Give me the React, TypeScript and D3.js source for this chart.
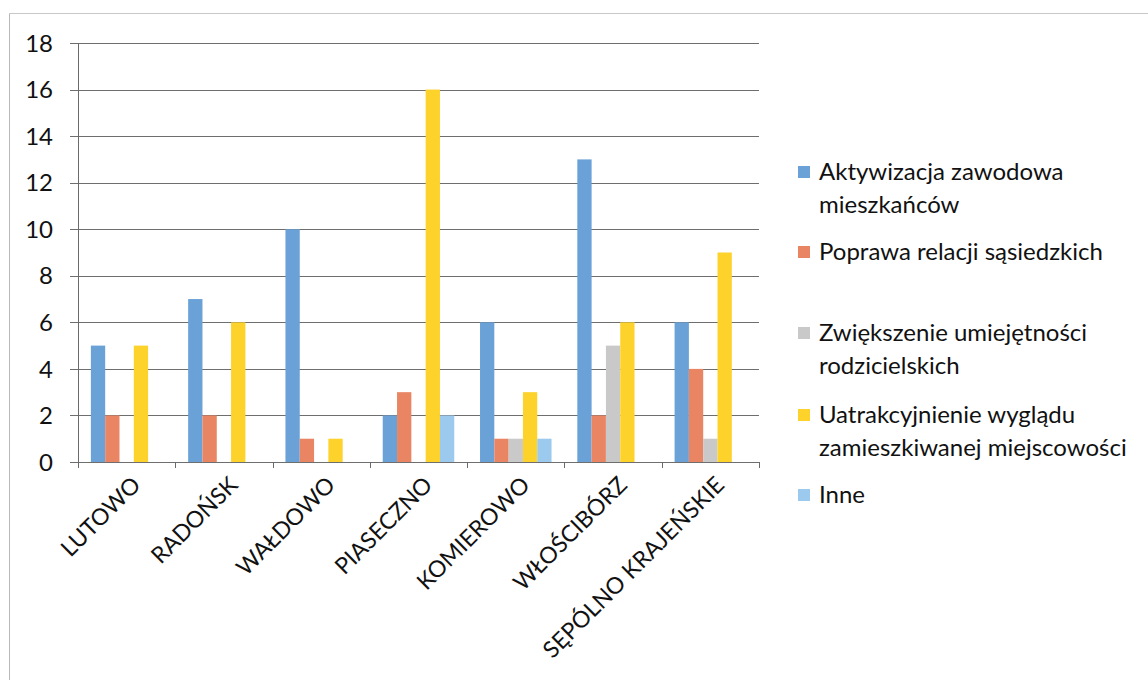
import React from "react";
import * as d3 from "d3";

const categories = ["LUTOWO", "RADOŃSK", "WAŁDOWO", "PIASECZNO", "KOMIEROWO", "WŁOŚCIBÓRZ", "SĘPÓLNO KRAJEŃSKIE"];
const seriesNames = [
  ["Aktywizacja zawodowa", "mieszkańców"],
  ["Poprawa relacji sąsiedzkich"],
  ["Zwiększenie umiejętności", "rodzicielskich"],
  ["Uatrakcyjnienie wyglądu", "zamieszkiwanej miejscowości"],
  ["Inne"],
];
const aktywizacja = [5, 7, 10, 2, 6, 13, 6];
const poprawa = [2, 2, 1, 3, 1, 2, 4];
const zwiekszenie = [0, 0, 0, 0, 1, 5, 1];
const uatrakcyjnienie = [5, 6, 1, 16, 3, 6, 9];
const inne = [0, 0, 0, 2, 1, 0, 0];
const seriesValues = [aktywizacja, poprawa, zwiekszenie, uatrakcyjnienie, inne];
const colors = ["#6aa2d8", "#ea8563", "#c9c9c9", "#fdd22b", "#9ccaef"];
const yTicks = [0, 2, 4, 6, 8, 10, 12, 14, 16, 18];

const W = 1148, H = 680;
const left = 78, right = 759, top = 43, bottom = 462;
const font = "Lato, 'Open Sans', sans-serif";

export default function App() {
  const x = d3.scaleBand<string>().domain(categories).range([left, right]).paddingInner(0).paddingOuter(0);
  const xs = d3.scaleBand<number>().domain(d3.range(seriesValues.length)).range([0, x.bandwidth()]).paddingInner(0).paddingOuter(0.9);
  const y = d3.scaleLinear().domain([0, 18]).range([bottom, top]);
  const boundaries = d3.range(categories.length + 1).map((i) => left + i * x.step());
  const legendY = [172, 252, 333, 415, 495];

  return (
    <svg width={W} height={H} style={{ position: "absolute", left: 0, top: 0, background: "#fff" }} fontFamily={font}>
      <rect x={0} y={0} width={W} height={H} fill="#fff" />
      {/* outer chart border */}
      <line x1={9.5} y1={13.5} x2={W} y2={13.5} stroke="#c8c8c8" strokeWidth={1} />
      <line x1={9.5} y1={13.5} x2={9.5} y2={H} stroke="#b8b8b8" strokeWidth={1} />
      {/* grid */}
      {yTicks.map((t) => (
        <g key={t}>
          <line x1={left - 8} x2={right} y1={Math.round(y(t)) + 0.5} y2={Math.round(y(t)) + 0.5} stroke="#6e6e6e" strokeWidth={1} />
          <text x={left - 25} y={y(t)} dy="0.36em" textAnchor="end" fontSize={24} fill="#111">{t}</text>
        </g>
      ))}
      <line x1={left + 0.5} x2={left + 0.5} y1={top} y2={bottom + 6} stroke="#6a6a6a" strokeWidth={1} />
      {boundaries.map((b, i) => (
        <line key={i} x1={Math.round(b) + 0.5} x2={Math.round(b) + 0.5} y1={bottom} y2={bottom + 6} stroke="#6a6a6a" strokeWidth={1} />
      ))}
      {/* bars */}
      {seriesValues.map((vals, s) =>
        vals.map((v, i) =>
          v > 0 ? (
            <rect
              key={s + "-" + i}
              x={(x(categories[i]) as number) + (xs(s) as number)}
              y={y(v)}
              width={xs.bandwidth()}
              height={y(0) - y(v)}
              fill={colors[s]}
            />
          ) : null
        )
      )}
      {/* x labels */}
      {categories.map((c) => {
        const cx = (x(c) as number) + x.bandwidth() / 2 + 4;
        const cy = bottom + 13;
        return (
          <text key={c} x={cx} y={cy} transform={`rotate(-45 ${cx} ${cy})`} textAnchor="end" fontSize={23} fill="#111" dy="0.7em">
            {c}
          </text>
        );
      })}
      {/* legend */}
      {seriesNames.map((lines, s) => (
        <g key={s}>
          <rect x={798} y={legendY[s] - 6} width={12} height={12} fill={colors[s]} />
          {lines.map((l, j) => (
            <text key={j} x={819} y={legendY[s] + j * 33} dy="0.35em" fontSize={24} fill="#111">{l}</text>
          ))}
        </g>
      ))}
    </svg>
  );
}
